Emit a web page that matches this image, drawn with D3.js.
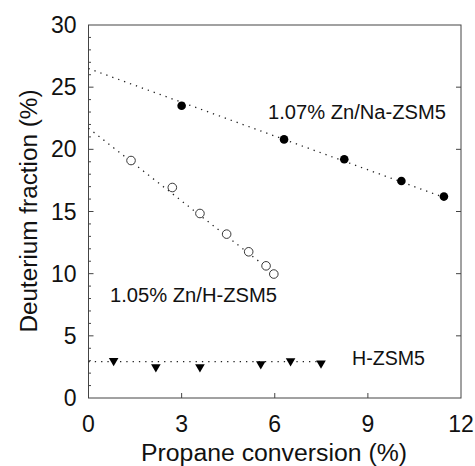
<!DOCTYPE html>
<html>
<head>
<meta charset="UTF-8" />
<script src="https://cdn.jsdelivr.net/npm/d3@7/dist/d3.min.js"></script>
<style>
  body { margin: 0; background: #fff; }
  svg text { font-family: "Liberation Sans", Arial, sans-serif; fill: #111; }
</style>
</head>
<body>
<div id="chart"></div>
<script>
// Zn/Na-ZSM5 (filled circles)
const naX = [3.0, 6.3, 8.24, 10.08, 11.45];
const naY = [23.5, 20.8, 19.2, 17.45, 16.2];
const naFit = [[0, 26.5], [11.6, 16.0]];
// Zn/H-ZSM5 (open circles)
const hzX = [1.37, 2.70, 3.59, 4.45, 5.16, 5.72, 5.97];
const hzY = [19.1, 16.93, 14.84, 13.18, 11.76, 10.63, 9.97];
const hzFit = [[0, 21.7], [6.05, 9.9]];
// H-ZSM5 (triangles)
const hX = [0.81, 2.17, 3.59, 5.55, 6.51, 7.49];
const hY = [3.0, 2.5, 2.5, 2.73, 2.97, 2.8];
const hFit = [[0, 2.92], [7.5, 2.92]];

const xTicks = [0, 3, 6, 9, 12];
const yTicks = [0, 5, 10, 15, 20, 25, 30];

const width = 475, height = 466;
const margin = { left: 88.5, right: 14, top: 25, bottom: 68 };

const svg = d3.select("#chart").append("svg")
  .attr("width", width).attr("height", height);

const x = d3.scaleLinear().domain([0, 12]).range([margin.left, width - margin.right]);
const y = d3.scaleLinear().domain([0, 30]).range([height - margin.bottom, margin.top]);

const axisColor = "#444";

// frame
svg.append("rect")
  .attr("x", x(0)).attr("y", y(30))
  .attr("width", x(12) - x(0)).attr("height", y(0) - y(30))
  .attr("fill", "none").attr("stroke", axisColor).attr("stroke-width", 1);

// ticks inside
const g = svg.append("g").attr("stroke", axisColor).attr("stroke-width", 1);
d3.range(1, 30).forEach(v => {
  const major = v % 5 === 0;
  g.append("line").attr("x1", x(0)).attr("x2", x(0) + (major ? 5 : 2.5))
    .attr("y1", y(v)).attr("y2", y(v));
  if (major) g.append("line").attr("x1", x(12)).attr("x2", x(12) - 5)
    .attr("y1", y(v)).attr("y2", y(v));
});
xTicks.slice(1, -1).forEach(v => {
  g.append("line").attr("x1", x(v)).attr("x2", x(v))
    .attr("y1", y(0)).attr("y2", y(0) - 5);
});

// tick labels
svg.append("g").selectAll("text").data(yTicks).join("text")
  .attr("x", x(0) - 12).attr("y", d => y(d) + 8)
  .attr("text-anchor", "end").attr("font-size", 23).text(d => d);
svg.append("g").selectAll("text").data(xTicks).join("text")
  .attr("x", d => x(d)).attr("y", y(0) + 34)
  .attr("text-anchor", "middle").attr("font-size", 23).text(d => d);

// axis titles
svg.append("text").attr("x", 274).attr("y", 461)
  .attr("text-anchor", "middle").attr("font-size", 23)
  .attr("textLength", 266).attr("lengthAdjust", "spacingAndGlyphs")
  .text("Propane conversion (%)");
svg.append("text").attr("transform", `translate(37,211) rotate(-90)`)
  .attr("text-anchor", "middle").attr("font-size", 23)
  .attr("textLength", 243).attr("lengthAdjust", "spacingAndGlyphs")
  .text("Deuterium fraction (%)");

// fit lines
const line = d3.line().x(d => x(d[0])).y(d => y(d[1]));
[naFit, hzFit, hFit].forEach(f => {
  svg.append("path").attr("d", line(f)).attr("fill", "none")
    .attr("stroke", "#222").attr("stroke-width", 1.3)
    .attr("stroke-dasharray", "1.3,5");
});

// markers
svg.append("g").selectAll("circle").data(naX).join("circle")
  .attr("cx", d => x(d)).attr("cy", (d, i) => y(naY[i])).attr("r", 4.3)
  .attr("fill", "#000");
svg.append("g").selectAll("circle").data(hzX).join("circle")
  .attr("cx", d => x(d)).attr("cy", (d, i) => y(hzY[i])).attr("r", 4.3)
  .attr("fill", "#fff").attr("stroke", "#222").attr("stroke-width", 0.9);
const tri = d3.symbol().type(d3.symbolTriangle).size(40);
svg.append("g").selectAll("path").data(hX).join("path")
  .attr("d", tri)
  .attr("transform", (d, i) => `translate(${x(d)},${y(hY[i])}) rotate(180)`)
  .attr("fill", "#000");

// series labels
svg.append("text").attr("x", 268).attr("y", 119).attr("font-size", 20)
  .attr("textLength", 178).attr("lengthAdjust", "spacingAndGlyphs").text("1.07% Zn/Na-ZSM5");
svg.append("text").attr("x", 110).attr("y", 302).attr("font-size", 20)
  .attr("textLength", 167).attr("lengthAdjust", "spacingAndGlyphs").text("1.05% Zn/H-ZSM5");
svg.append("text").attr("x", 352).attr("y", 365).attr("font-size", 20)
  .attr("textLength", 73).attr("lengthAdjust", "spacingAndGlyphs").text("H-ZSM5");
</script>
</body>
</html>
